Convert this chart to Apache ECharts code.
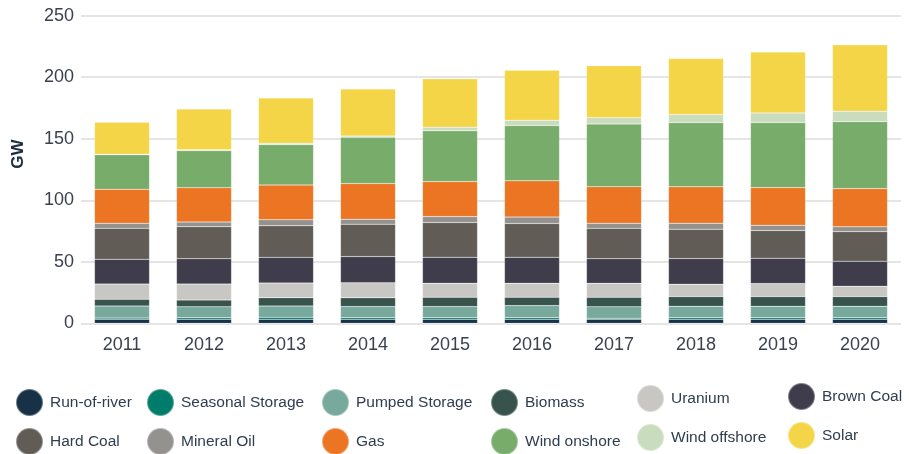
<!DOCTYPE html>
<html>
<head>
<meta charset="utf-8">
<script src="https://cdn.jsdelivr.net/npm/echarts@6/dist/echarts.min.js"></script>
<style>
  html, body { margin: 0; padding: 0; background: #fff; }
  #chart { width: 909px; height: 454px; }
</style>
</head>
<body>
<div id="chart"></div>
<script>
// years on the x axis
const years = ['2011', '2012', '2013', '2014', '2015', '2016', '2017', '2018', '2019', '2020'];
const yTicks = [0, 50, 100, 150, 200, 250];

// installed capacity, GW
const runOfRiver = [3.3, 3.3, 3.3, 3.3, 3.3, 3.3, 3.3, 3.3, 3.3, 3.3];
const seasonalStorage = [1.0, 1.2, 1.6, 1.3, 1.3, 1.3, 0.8, 1.3, 1.3, 1.3];
const pumpedStorage = [9.8, 9.0, 9.2, 9.0, 9.0, 9.8, 9.4, 9.3, 9.3, 9.3];
const biomass = [5.4, 5.4, 6.7, 7.1, 7.6, 6.8, 7.6, 7.8, 7.8, 7.8];
const uranium = [12.4, 13.0, 12.0, 12.2, 11.4, 11.4, 11.4, 10.1, 10.6, 8.5];
const brownCoal = [20.1, 20.6, 20.8, 21.3, 21.1, 21.1, 20.0, 20.8, 20.6, 20.3];
const hardCoal = [25.2, 26.0, 25.7, 26.4, 28.2, 27.4, 24.7, 23.9, 22.5, 24.0];
const mineralOil = [4.1, 3.8, 4.9, 4.0, 4.8, 5.2, 4.1, 4.9, 4.3, 3.9];
const gas = [27.6, 27.9, 28.2, 29.0, 28.5, 29.5, 29.7, 29.5, 30.6, 31.1];
const windOnshore = [28.1, 30.1, 32.8, 37.7, 41.2, 44.9, 51.0, 52.2, 52.8, 54.4];
const windOffshore = [0.4, 0.8, 1.1, 1.0, 3.0, 4.4, 5.1, 6.5, 7.9, 8.5];
const solar = [26.0, 33.1, 36.8, 38.2, 39.3, 40.6, 42.3, 45.6, 49.4, 53.9];

const seriesNames = ['Run-of-river', 'Seasonal Storage', 'Pumped Storage', 'Biomass', 'Uranium', 'Brown Coal',
  'Hard Coal', 'Mineral Oil', 'Gas', 'Wind onshore', 'Wind offshore', 'Solar'];
const seriesData = [runOfRiver, seasonalStorage, pumpedStorage, biomass, uranium, brownCoal,
  hardCoal, mineralOil, gas, windOnshore, windOffshore, solar];
const colors = ['#173247', '#007c6b', '#77a99d', '#38524c', '#c8c7c3', '#3f3c4b',
  '#625c57', '#93928f', '#eb7523', '#78ac6a', '#c9dcbd', '#f5d548'];

const font = 'Liberation Sans';
const textColor = '#2f3d50';

// legend: 6 columns x 2 rows, one legend box per entry
const colLeft = [15, 146, 321, 490, 636, 787];
const rowTop = [
  [388, 388, 388, 388, 384, 382],
  [427, 427, 427, 427, 423, 421]
];
const legends = seriesNames.map((name, i) => ({
  left: colLeft[i % 6],
  top: rowTop[Math.floor(i / 6)][i % 6],
  padding: 0,
  icon: 'circle',
  itemWidth: 27,
  itemHeight: 27,
  selectedMode: false,
  data: [name],
  textStyle: { fontFamily: font, fontSize: 15.5, color: textColor, padding: [0, 0, 0, 2] }
}));

const chart = echarts.init(document.getElementById('chart'), null, { renderer: 'canvas' });
chart.setOption({
  animation: false,
  color: colors,
  textStyle: { fontFamily: font },
  grid: { left: 81, right: 8, top: 15.7, bottom: 130.7, containLabel: false },
  legend: legends,
  graphic: [{
    type: 'text',
    x: 18,
    y: 154,
    rotation: Math.PI / 2,
    style: {
      text: 'GW',
      font: 'bold 17px "Liberation Sans"',
      fill: '#1d2e40',
      align: 'center',
      verticalAlign: 'middle'
    }
  }],
  xAxis: {
    type: 'category',
    data: years,
    axisLine: { show: false },
    axisTick: { show: false },
    axisLabel: { fontSize: 18, color: '#3c4150', margin: 13 }
  },
  yAxis: {
    type: 'value',
    min: yTicks[0],
    max: yTicks[yTicks.length - 1],
    interval: 50,
    axisLine: { show: false },
    axisTick: { show: false },
    axisLabel: { fontSize: 18, color: '#3c4150', margin: 7 },
    splitLine: { lineStyle: { color: '#dcdcdc', width: 1.5 } }
  },
  series: seriesNames.map((name, i) => ({
    name: name,
    type: 'bar',
    stack: 'total',
    barWidth: 55,
    data: seriesData[i],
    itemStyle: { color: colors[i], borderColor: 'rgba(255,255,255,0.35)', borderWidth: 0.5 }
  }))
});
</script>
</body>
</html>
